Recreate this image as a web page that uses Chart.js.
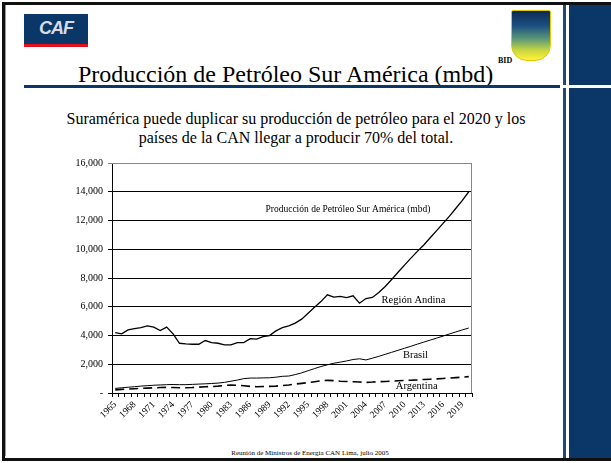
<!DOCTYPE html>
<html>
<head>
<meta charset="utf-8">
<script src="https://cdn.jsdelivr.net/npm/chart.js@4.4.0/dist/chart.umd.min.js"></script>
<style>
  body { margin: 0; background: #fff; }
  #slide { position: relative; width: 611px; height: 463px; overflow: hidden; font-family: "Liberation Serif", "Times New Roman", serif; }
  .abs { position: absolute; }
</style>
</head>
<body>
<div id="slide">
  <!-- slide frame and blue side panel -->
  <div class="abs" style="left:2px;top:2px;width:609px;height:453px;border:3px solid #111;border-right:none;"></div>
  <div class="abs" style="left:5px;top:5px;width:1px;height:451px;background:#999;"></div>
  <div class="abs" style="left:563px;top:5px;width:3px;height:80px;background:#1e4a7a;"></div>
  <div class="abs" style="left:563px;top:88px;width:3px;height:370px;background:#1e4a7a;"></div>
  <div class="abs" style="left:569px;top:5px;width:42px;height:80px;background:#0a3668;"></div>
  <div class="abs" style="left:569px;top:88px;width:42px;height:370px;background:#0a3668;"></div>

  <!-- CAF logo -->
  <div class="abs" style="left:24px;top:14px;width:64px;height:30px;background:#0a3668;"></div>
  <div class="abs" style="left:24px;top:44px;width:64px;height:3px;background:#e3101e;"></div>
  <div class="abs" style="left:24px;top:18px;width:64px;text-align:center;font:italic bold 18px 'Liberation Sans',Arial,sans-serif;color:#d5dce4;letter-spacing:-1px;">CAF</div>

  <!-- BID logo -->
  <div class="abs" style="left:511px;top:10px;width:38px;height:49px;border:1px solid #e0c800;border-radius:2px 2px 16px 16px;background:linear-gradient(to bottom, #0b2a55 0%, #1d4f80 30%, #5f9a78 58%, #c8d640 80%, #fff23a 100%);"></div>

  <!-- title -->
  <div class="abs" style="left:78px;top:62px;font-size:24px;line-height:24px;white-space:nowrap;color:#000;">Producción de Petróleo Sur América (mbd)</div>
  <div class="abs" style="left:498px;top:57px;font-size:8px;line-height:8px;font-weight:bold;color:#000;">BID</div>
  <div class="abs" style="left:24px;top:85px;width:536px;height:3px;background:#0a3668;"></div>

  <!-- subtitle -->
  <div class="abs" style="left:30px;top:109px;width:532px;text-align:center;font-size:16px;line-height:19px;color:#000;">Suramérica puede duplicar su producción de petróleo para el 2020 y los<br>países de la CAN llegar a producir 70% del total.</div>

  <!-- footer -->
  <div class="abs" style="left:160px;top:449px;width:300px;text-align:center;font-size:7px;line-height:8px;color:#000;">Reunión de Ministros de Energía CAN Lima, julio 2005</div>

  <canvas id="prod_chart" class="abs" style="left:0;top:0;" width="611" height="463"></canvas>
</div>

<script>
// Years on the x axis
const years = [];
for (let y = 1965; y <= 2020; y++) years.push(String(y));

// Values (mbd)
const andina = [
    4200, 4110, 4390, 4480, 4550, 4670, 4580, 4340, 4580, 4110,
    3460, 3420, 3390, 3390, 3650, 3510, 3460, 3350, 3350, 3510,
    3510, 3780, 3750, 3920, 3990, 4320, 4550, 4670, 4860, 5140,
    5550, 5970, 6360, 6830, 6670, 6720, 6640, 6760, 6250, 6570,
    6650, 6990, 7410, 7900, 8400, 8900, 9380, 9850, 10300, 10800,
    11300, 11800, 12300, 12850, 13400, 14000
];

const brasil = [
    320, 360, 400, 440, 480, 510, 540, 560, 580, 590,
    580, 580, 600, 620, 640, 660, 690, 740, 820, 900,
    1000, 1040, 1040, 1050, 1060, 1100, 1160, 1180, 1280, 1400,
    1550, 1700, 1840, 1960, 2070, 2150, 2230, 2330, 2380, 2300,
    2420, 2550, 2690, 2830, 2970, 3110, 3250, 3400, 3540, 3680,
    3820, 3960, 4110, 4250, 4390, 4520
];

const argentina = [
    220, 250, 280, 300, 320, 340, 360, 380, 390, 380,
    370, 370, 380, 410, 440, 450, 480, 520, 560, 540,
    500, 460, 440, 450, 460, 480, 520, 560, 620, 670,
    720, 780, 850, 880, 860, 820, 800, 780, 760, 740,
    760, 790, 800, 820, 850, 870, 890, 910, 940, 960,
    980, 1010, 1040, 1070, 1100, 1140
];

const y_ticks = [0, 2000, 4000, 6000, 8000, 10000, 12000, 14000, 16000];

// Text labels placed inside the plot
const line_labels = [
    { text: 'Producción de Petróleo Sur América (mbd)', year: 2001.2, value: 12750 },
    { text: 'Región Andina', year: 2011.4, value: 6480 },
    { text: 'Brasil', year: 2011.7, value: 2650 },
    { text: 'Argentina', year: 2011.9, value: 490 },
];

const font_name = "'Liberation Serif', 'Times New Roman', serif";

// Draws the grey plot border and the labels of the lines
const labelPlugin = {
    id: 'lineLabels',
    afterDatasetsDraw(chart) {
        const ctx = chart.ctx;
        const area = chart.chartArea;
        const xs = chart.scales.x;
        const ys = chart.scales.y;
        ctx.save();
        ctx.strokeStyle = '#888';
        ctx.lineWidth = 1;
        ctx.beginPath();
        ctx.moveTo(area.left, area.top + 0.5);
        ctx.lineTo(area.right - 0.5, area.top + 0.5);
        ctx.lineTo(area.right - 0.5, area.bottom);
        ctx.stroke();

        ctx.fillStyle = '#000';
        ctx.textAlign = 'center';
        ctx.textBaseline = 'middle';
        line_labels.forEach((l, i) => {
            ctx.font = (i === 0 ? '9.5px ' : '10.5px ') + font_name;
            ctx.fillText(l.text, xs.getPixelForValue(l.year - 1965), ys.getPixelForValue(l.value));
        });
        ctx.restore();
    }
};

const prod_config = {
    type: 'line',
    data: {
        labels: years,
        datasets: [{
            label: 'Región Andina',
            data: andina,
            borderColor: '#000',
            borderWidth: 1.3,
            pointRadius: 0,
        }, {
            label: 'Brasil',
            data: brasil,
            borderColor: '#000',
            borderWidth: 1,
            pointRadius: 0,
        }, {
            label: 'Argentina',
            data: argentina,
            borderColor: '#000',
            borderWidth: 1.6,
            borderDash: [9, 5],
            pointRadius: 0,
        }]
    },
    options: {
        responsive: false,
        animation: false,
        events: [],
        layout: {
            padding: { left: 40, right: 139, top: 163, bottom: 30 }
        },
        plugins: {
            legend: { display: false },
            tooltip: { enabled: false }
        },
        scales: {
            x: {
                type: 'category',
                offset: true,
                afterFit: (scale) => { scale.height = 40; },
                grid: {
                    offset: true,
                    drawOnChartArea: false,
                    drawTicks: true,
                    tickLength: 4,
                    color: '#000',
                },
                border: { display: true, color: '#000', width: 1 },
                ticks: {
                    autoSkip: false,
                    minRotation: 45,
                    maxRotation: 45,
                    padding: 2,
                    color: '#000',
                    font: { family: font_name, size: 9.5 },
                    callback: function(val, idx) {
                        return idx % 3 === 0 ? this.getLabelForValue(val) : '';
                    }
                }
            },
            y: {
                min: 0,
                max: 16000,
                afterFit: (scale) => { scale.width = 72; },
                afterBuildTicks: (scale) => {
                    scale.ticks = y_ticks.map(v => ({ value: v }));
                },
                grid: {
                    color: (c) => c.tick && c.tick.value === 16000 ? '#888' : '#000',
                    lineWidth: 1,
                    drawTicks: true,
                    tickLength: 4,
                },
                border: { display: true, color: '#000', width: 1 },
                ticks: {
                    padding: 5,
                    color: '#000',
                    font: { family: font_name, size: 10 },
                    callback: (v) => v === 0 ? '-' : v.toLocaleString('en-US')
                }
            }
        }
    },
    plugins: [labelPlugin]
};

const prodChart = new Chart(
    document.getElementById('prod_chart'),
    prod_config
);
</script>
</body>
</html>
